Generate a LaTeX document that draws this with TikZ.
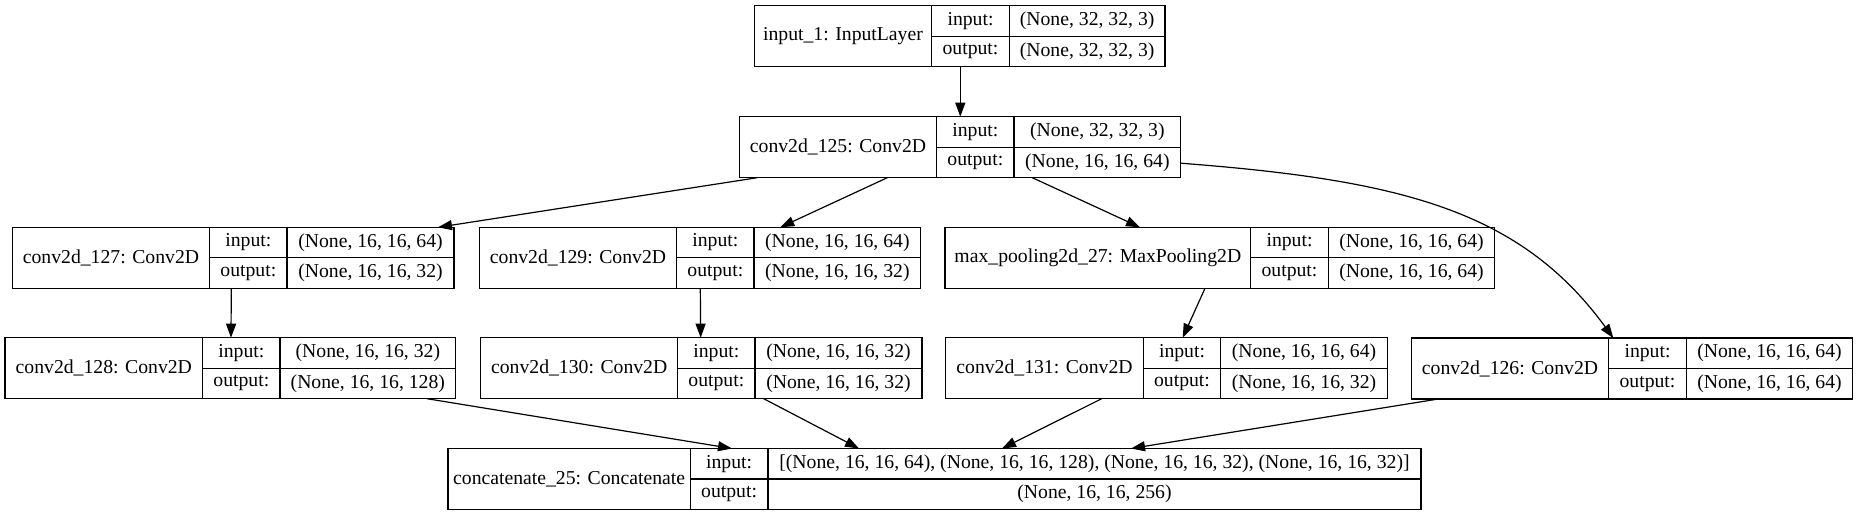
\documentclass[tikz,border=0pt]{standalone}
\usepackage{fontspec}
\setmainfont{Liberation Serif}
\usepackage{tikz}
\usetikzlibrary{arrows.meta,calc}

\tikzset{
  box/.style={draw, line width=1.2pt, inner sep=0pt, outer sep=0pt, minimum height=30.5pt},
  arr/.style={line width=1.2pt, -{Triangle[length=14pt,width=10pt]}}
}

% #1 name, #2 left, #3 first divider, #4 second divider, #5 right, #6 top
\newcommand{\layer}[9]{%
  \node[box, draw=none, anchor=north west, minimum width={(#5-#2)*1pt}, minimum height=61pt] (#1) at (#2,#6) {};
  \node[box, anchor=north west, minimum width={(#3-#2)*1pt}, minimum height=61pt] (#1-name) at (#2,#6) {#7};
  \node[box, anchor=north west, minimum width={(#4-#3)*1pt}] (#1-i) at (#3,#6) {input:};
  \node[box, anchor=south west, minimum width={(#4-#3)*1pt}] (#1-o) at (#3,#6+61) {output:};
  \node[box, anchor=north west, minimum width={(#5-#4)*1pt}] (#1-in) at (#4,#6) {#8};
  \node[box, anchor=south west, minimum width={(#5-#4)*1pt}] (#1-out) at (#4,#6+61) {#9};
}

\begin{document}
\begin{tikzpicture}[x=1pt, y=-1pt, font=\fontsize{19.7}{24}\selectfont]

  \useasboundingbox (0,0) rectangle (1858,516);

  \layer{in1}{754.3}{931.7}{1009.3}{1165}{5.7}{input\_1: InputLayer}{(None, 32, 32, 3)}{(None, 32, 32, 3)}
  \layer{c125}{739.3}{936.7}{1014}{1180.7}{116.7}{conv2d\_125: Conv2D}{(None, 32, 32, 3)}{(None, 16, 16, 64)}
  \layer{c127}{12.3}{209.7}{287}{454}{227.3}{conv2d\_127: Conv2D}{(None, 16, 16, 64)}{(None, 16, 16, 32)}
  \layer{c129}{479.3}{676.7}{754}{920.7}{227.3}{conv2d\_129: Conv2D}{(None, 16, 16, 64)}{(None, 16, 16, 32)}
  \layer{pool}{945}{1250.7}{1328.3}{1494.7}{227.3}{max\_pooling2d\_27: MaxPooling2D}{(None, 16, 16, 64)}{(None, 16, 16, 64)}
  \layer{c128}{5}{202.7}{280}{455.7}{337.7}{conv2d\_128: Conv2D}{(None, 16, 16, 32)}{(None, 16, 16, 128)}
  \layer{c130}{480.7}{677.7}{755}{922}{337.7}{conv2d\_130: Conv2D}{(None, 16, 16, 32)}{(None, 16, 16, 32)}
  \layer{c131}{945.7}{1143.3}{1220.7}{1387.3}{337.7}{conv2d\_131: Conv2D}{(None, 16, 16, 64)}{(None, 16, 16, 32)}
  \layer{c126}{1411.3}{1608.7}{1686.3}{1852.7}{338}{conv2d\_126: Conv2D}{(None, 16, 16, 64)}{(None, 16, 16, 64)}
  \layer{cat}{448}{690.2}{768}{1421}{448.5}{concatenate\_25: Concatenate}{[(None, 16, 16, 64), (None, 16, 16, 128), (None, 16, 16, 32), (None, 16, 16, 32)]}{(None, 16, 16, 256)}

  \draw[arr] ($(in1.south west)+(206,0)$) -- ($(c125.north west)+(221,0)$);
  \draw[arr] ($(c125.south west)+(18,0)$) -- ($(c127.north east)+(-16,0)$);
  \draw[arr] ($(c125.south west)+(148,0)$) -- ($(c129.north west)+(301,0)$);
  \draw[arr] ($(c125.south west)+(293,0)$) -- ($(pool.north west)+(195,0)$);
  \draw[arr] ($(c125.east)+(0,16)$) .. controls (1400,180) and (1520,210) .. ($(c126.north west)+(202,0)$);
  \draw[arr] ($(c127.south west)+(219,0)$) -- ($(c128.north west)+(226,0)$);
  \draw[arr] ($(c129.south west)+(221,0)$) -- ($(c130.north west)+(220,0)$);
  \draw[arr] ($(pool.south west)+(260,0)$) -- ($(c131.north west)+(237,0)$);
  \draw[arr] ($(c128.south west)+(422,0)$) -- ($(cat.north west)+(284,0)$);
  \draw[arr] ($(c130.south west)+(283,0)$) -- ($(cat.north west)+(411,0)$);
  \draw[arr] ($(c131.south west)+(156,0)$) -- ($(cat.north west)+(554,0)$);
  \draw[arr] ($(c126.south west)+(27,0)$) -- ($(cat.north west)+(683,0)$);

\end{tikzpicture}
\end{document}
